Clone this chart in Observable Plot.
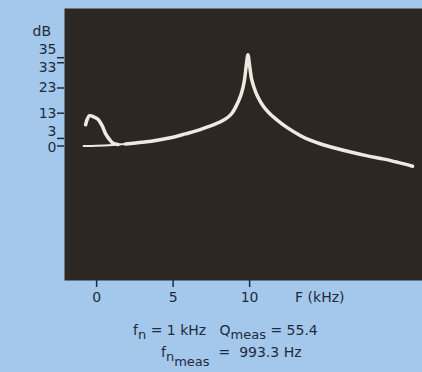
<!DOCTYPE html>
<html><head><meta charset="utf-8">
<script src="https://cdn.jsdelivr.net/npm/d3@7"></script>
<script src="https://cdn.jsdelivr.net/npm/@observablehq/plot@0.6"></script>
<style>
html,body{margin:0;padding:0;background:#a3c8ec;}
body{width:422px;height:372px;overflow:hidden;position:relative;font-family:"DejaVu Sans",sans-serif;color:#1f2b3c;}
#chart svg{display:block}
.cap{position:absolute;font-size:14px;white-space:nowrap;line-height:16px}
.cap sub{font-size:13px;vertical-align:-4px;line-height:0}
.cap sub sub{font-size:13px;vertical-align:-5px}
</style></head>
<body>
<div id="chart"></div>
<div class="cap" style="left:133px;top:322px">f<sub>n</sub> = 1 kHz&nbsp;&nbsp; Q<sub>meas</sub> = 55.4</div>
<div class="cap" style="left:161px;top:344px">f<sub>n<sub>meas</sub></sub> &nbsp;= &nbsp;993.3 Hz</div>
<script>
// Tick labels
const xTicks = [0, 5, 10];
const yTicks = [0, 3, 13, 23, 33, 35];
const yTicksMid = [13, 23];
const yTickZero = [0];
const yTickThree = [3];
const yTickLow = [33];
const yTickHigh = [35];

// Baseline trace (start of sweep)
const baseF  = [-0.85, 0.0, 1.05, 1.9];
const baseDb = [0, 0.1, 0.4, 0.8];

// Low-frequency hump
const humpF  = [-0.72, -0.62, -0.46, -0.2, 0.07, 0.35, 0.59, 0.85, 1.05, 1.4];
const humpDb = [8.4, 10.5, 12, 11.6, 10.7, 8.2, 4.8, 2.5, 1.2, 0.6];

// Main resonance curve
const mainF  = [1.9, 3.0, 4.05, 5.0, 5.8, 6.5, 7.12, 7.7, 8.22, 8.6, 8.87, 9.15, 9.41, 9.56, 9.67, 9.78, 9.89, 10.0, 10.13, 10.3, 10.5, 10.85, 11.26, 11.8, 12.46, 13.3, 14.0, 14.7, 15.5, 16.6, 17.7, 18.8, 19.7, 20.65];
const mainDb = [0.8, 1.5, 2.4, 3.5, 4.8, 6.0, 7.3, 8.6, 10.0, 11.5, 13.2, 16.2, 19.9, 23.0, 26.5, 31.8, 36.2, 31.8, 26.5, 23.0, 19.9, 16.2, 13.2, 10.3, 7.3, 4.2, 2.2, 0.7, -0.7, -2.4, -3.9, -5.2, -6.5, -8];

const toRows = (fs, ds) => fs.map((f, i) => ({f, db: ds[i]}));
const base = toRows(baseF, baseDb);
const hump = toRows(humpF, humpDb);
const main = toRows(mainF, mainDb);

const traceColor = "#efeadf";
const lab = {tickSize: 0, tickPadding: 8, label: null, fontSize: 14};
const chart = Plot.plot({
  width: 422, height: 312,
  marginLeft: 64, marginRight: 0, marginTop: 8, marginBottom: 32,
  style: {background: "transparent", fontFamily: "DejaVu Sans", fontSize: "14px", color: "#1f2b3c", overflow: "visible"},
  x: {domain: [-2.1, 21.3]},
  y: {domain: [-53.3, 54.5]},
  marks: [
    Plot.frame({fill: "#2d2723", stroke: null}),
    Plot.axisX({ticks: xTicks, tickSize: 7, tickPadding: 5, label: null, strokeWidth: 1.5, fontSize: 14}),
    Plot.axisY({ticks: yTicks, tickSize: 7, tickFormat: () => "", label: null, strokeWidth: 1.5}),
    Plot.axisY({ticks: yTicksMid, ...lab}),
    Plot.axisY({ticks: yTickZero, ...lab, dy: 2}),
    Plot.axisY({ticks: yTickThree, ...lab, dy: -7}),
    Plot.axisY({ticks: yTickLow, ...lab, dy: 5}),
    Plot.axisY({ticks: yTickHigh, ...lab, dy: -8}),
    Plot.text(["dB"], {frameAnchor: "top-left", dx: -32, dy: 18, fontSize: 14}),
    Plot.text(["F (kHz)"], {frameAnchor: "bottom-right", dx: -78, dy: 21, fontSize: 14}),
    Plot.line(base, {x: "f", y: "db", stroke: traceColor, strokeWidth: 2, curve: "catmull-rom"}),
    Plot.line(hump, {x: "f", y: "db", stroke: traceColor, strokeWidth: 3.5, curve: "catmull-rom"}),
    Plot.line(main, {x: "f", y: "db", stroke: traceColor, strokeWidth: 3.5, curve: "catmull-rom"})
  ]
});
document.getElementById("chart").appendChild(chart);
</script>
</body></html>
